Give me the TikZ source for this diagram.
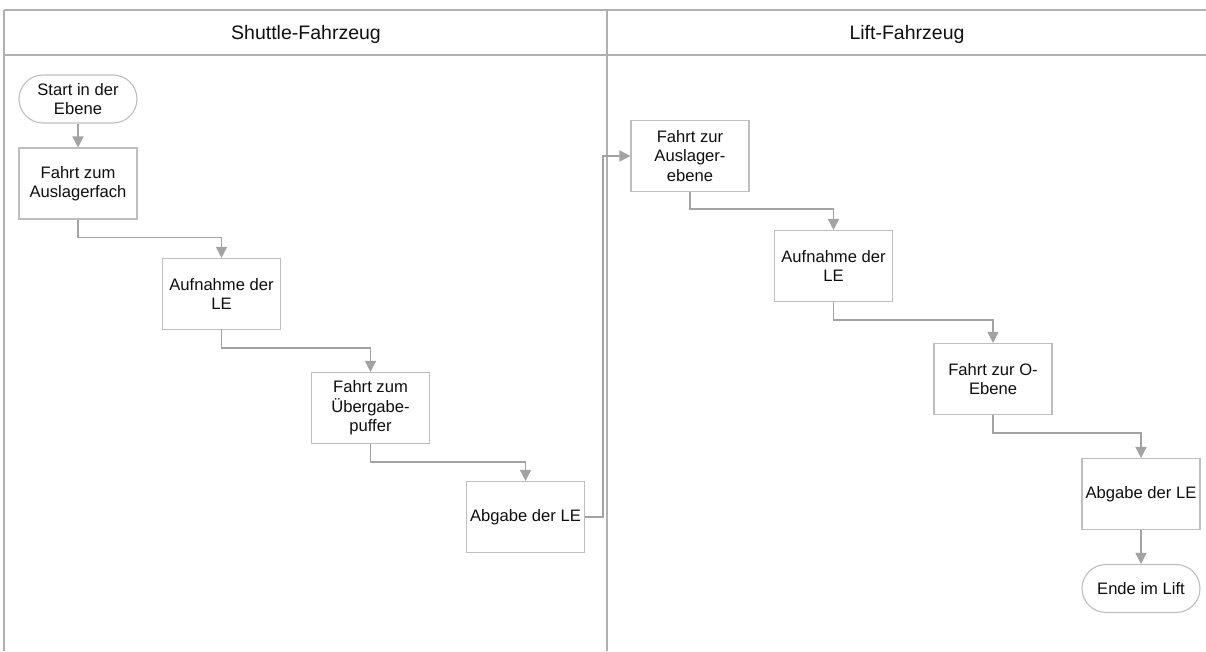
\documentclass[tikz,border=0pt]{standalone}
\usepackage{fontspec}
\setmainfont{Liberation Sans}
\usetikzlibrary{arrows.meta}
\definecolor{lanegray}{RGB}{176,176,176}
\definecolor{boxgray}{RGB}{190,190,190}
\definecolor{flowgray}{RGB}{163,163,163}
\definecolor{inkcolor}{RGB}{15,15,15}
\begin{document}
\begin{tikzpicture}[x=1pt,y=-1pt,
  stepbox/.style={draw=boxgray, line width=1.1pt, fill=white,
    minimum width=118pt, minimum height=71pt, inner sep=0pt,
    align=center, text=inkcolor, font=\fontsize{16.6}{19.5}\selectfont},
  terminal/.style={stepbox, minimum height=48pt, rounded corners=24pt},
  conn/.style={draw=flowgray, line width=1.5pt,
    -{Triangle[length=11pt,width=11pt]}},
  lane/.style={draw=lanegray, line width=1.5pt},
  lanehead/.style={text=inkcolor, font=\fontsize{19.5}{23}\selectfont}]

\useasboundingbox (0,0) rectangle (1206,651);

% swimlane frame
\draw[lane] (4,10) -- (1206,10);
\draw[lane, line width=2.5pt] (4,55) -- (1206,55);
\draw[lane] (4,10) -- (4,651);
\draw[lane] (607,10) -- (607,651);
\node[lanehead] (h1) at (306,34) {Shuttle-Fahrzeug};
\node[lanehead] (h2) at (907,34) {Lift-Fahrzeug};

% shuttle lane
\node[terminal] (s)  at (78,99)     {Start in der\\Ebene};
\node[stepbox]  (b1) at (78,183.5)  {Fahrt zum\\Auslagerfach};
\node[stepbox]  (b2) at (221.5,294) {Aufnahme der\\LE};
\node[stepbox]  (b3) at (370.5,408) {Fahrt zum\\Übergabe-\\puffer};
\node[stepbox]  (b4) at (525.5,517) {Abgabe der LE};

% lift lane
\node[stepbox]  (b5) at (690,156)   {Fahrt zur\\Auslager-\\ebene};
\node[stepbox]  (b6) at (833.5,266) {Aufnahme der\\LE};
\node[stepbox]  (b7) at (993,379)   {Fahrt zur O-\\Ebene};
\node[stepbox]  (b8) at (1141,494)  {Abgabe der LE};
\node[terminal] (e)  at (1141,588.5) {Ende im Lift};

% flow
\draw[conn] (s.south) -- (b1.north);
\draw[conn] (b1.south) -- ++(0,18) -| (b2.north);
\draw[conn] (b2.south) -- ++(0,18) -| (b3.north);
\draw[conn] (b3.south) -- ++(0,18) -| (b4.north);
\draw[conn] (b4.east) -- ++(18,0) |- (b5.west);
\draw[conn] (b5.south) -- ++(0,17) -| (b6.north);
\draw[conn] (b6.south) -- ++(0,18) -| (b7.north);
\draw[conn] (b7.south) -- ++(0,18) -| (b8.north);
\draw[conn] (b8.south) -- (e.north);
\end{tikzpicture}
\end{document}
